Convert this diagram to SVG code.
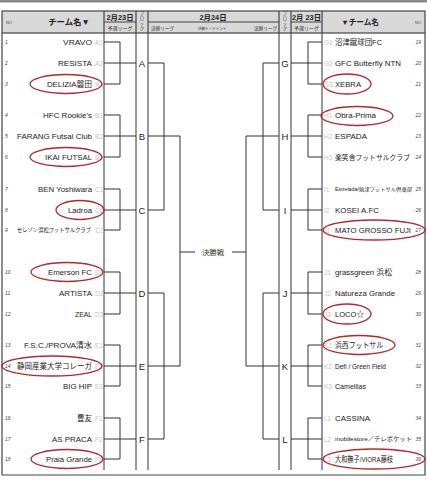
<svg xmlns="http://www.w3.org/2000/svg" width="427" height="480" viewBox="0 0 427 480">
<style>
.hd{fill:#d9d9d9;stroke:#444;stroke-width:1.2}
.ln{stroke:#333;stroke-width:1;fill:none}
.fr{stroke:#444;stroke-width:1.2;fill:none}
.t{font-family:"Liberation Sans","Noto Sans CJK JP",sans-serif;font-size:7.8px;fill:#1a1a1a}
.c{font-family:"Liberation Sans",sans-serif;font-size:6.5px;fill:#c4c4c4}
.n{font-family:"Liberation Sans",sans-serif;font-size:5px;font-style:italic;fill:#444}
.h{font-family:"Liberation Sans","Noto Sans CJK JP",sans-serif;font-weight:bold;fill:#222}
.s{font-family:"Noto Sans CJK JP","Liberation Sans",sans-serif;fill:#333}
.b{font-family:"Liberation Sans",sans-serif;font-size:9.5px;fill:#222;text-anchor:middle}
.e{fill:none;stroke:#b3282d;stroke-width:1.3}
</style>
<rect x="0" y="0" width="427" height="2.5" fill="#888"/>
<g id="header">
<rect class="hd" x="2" y="11" width="423" height="22"/>
<path class="fr" d="M104 11V33M136 11V33M148 11V33M279 11V33M291 11V33M322 11V33M104 22H136M148 22H279M291 22H322"/>
<text class="n" x="6" y="24" style="font-style:normal;font-size:4px">NO</text>
<text class="h" x="69" y="25" font-size="8.4" text-anchor="middle">チーム名▼</text>
<text class="h" x="120" y="19.5" font-size="7.4" text-anchor="middle">2月23日</text>
<text class="s" x="120" y="30" font-size="5" text-anchor="middle">予選リーグ</text>
<g class="s" font-size="4.3" text-anchor="middle"><text x="142" y="15">ブ</text><text x="142" y="20">ロ</text><text x="142" y="25">ッ</text><text x="142" y="30">ク</text><text x="285" y="15">ブ</text><text x="285" y="20">ロ</text><text x="285" y="25">ッ</text><text x="285" y="30">ク</text></g>
<text class="h" x="213" y="19.5" font-size="7.4" text-anchor="middle">2月24日</text>
<text class="s" x="151" y="30" font-size="4.6">決勝リーグ</text>
<text class="s" x="212" y="30" font-size="3.6" text-anchor="middle">決勝トーナメント</text>
<text class="s" x="277" y="30" font-size="4.6" text-anchor="end">決勝リーグ</text>
<text class="h" x="306.5" y="19.5" font-size="7.4" text-anchor="middle">2月 23日</text>
<text class="s" x="306.5" y="30" font-size="5" text-anchor="middle">予選リーグ</text>
<text class="h" x="360" y="25" font-size="7.6" text-anchor="middle">▼チーム名</text>
<text class="n" x="415" y="24" style="font-style:normal;font-size:4px">NO</text>
</g>
<g id="frame">
<path class="fr" d="M2 33V475H425V33"/>
<path class="ln" d="M104 33V470M136 33V470M148 33V470M279 33V470M291 33V470M322 33V470"/>
</g>
<g id="connectors">
<path class="ln" d="M104 42H120V84H104M104 63H136M148 63H164M104 115H120V157H104M104 136H136M148 136H180M104 189H120V230H104M104 210H136M148 210H164M104 272H120V314H104M104 293H136M148 293H164M104 345H120V386H104M104 366H136M148 366H180M104 418H120V459H104M104 439H136M148 439H164"/>
<path class="ln" d="M164 63V210M180 136V366M164 293V439M180 252H195M232 252H246"/>
<path class="ln" d="M322 42H308V84H322M322 63H291M279 63H263M322 115H308V157H322M322 136H291M279 136H246M322 189H308V230H322M322 210H291M279 210H263M322 272H308V314H322M322 293H291M279 293H263M322 345H308V386H322M322 366H291M279 366H246M322 418H308V459H322M322 439H291M279 439H263"/>
<path class="ln" d="M263 63V210M246 136V366M263 293V439"/>
</g>
<g id="blocks">
<text class="b" x="142" y="66.5">A</text>
<text class="b" x="142" y="139.5">B</text>
<text class="b" x="142" y="213.5">C</text>
<text class="b" x="142" y="296.5">D</text>
<text class="b" x="142" y="369.5">E</text>
<text class="b" x="142" y="442.5">F</text>
<text class="b" x="285" y="66.5">G</text>
<text class="b" x="285" y="139.5">H</text>
<text class="b" x="285" y="213.5">I</text>
<text class="b" x="285" y="296.5">J</text>
<text class="b" x="285" y="369.5">K</text>
<text class="b" x="285" y="442.5">L</text>
</g>
<g id="final"><text class="s" x="213" y="254.5" font-size="7" text-anchor="middle" textLength="22" lengthAdjust="spacingAndGlyphs">決勝戦</text></g>
<g id="left-teams" text-anchor="end">
<g id="t1"><text class="n" x="5" y="44" text-anchor="start">1</text><text class="t" x="92" y="44.8" textLength="29" lengthAdjust="spacingAndGlyphs">VRAVO</text><text class="c" x="95" y="44.5" text-anchor="start">A1</text></g>
<g id="t2"><text class="n" x="5" y="65" text-anchor="start">2</text><text class="t" x="92" y="65.8" textLength="34" lengthAdjust="spacingAndGlyphs">RESISTA</text><text class="c" x="95" y="65.5" text-anchor="start">A2</text></g>
<g id="t3"><text class="n" x="5" y="86" text-anchor="start">3</text><text class="t" x="92" y="86.8" textLength="45" lengthAdjust="spacingAndGlyphs">DELIZIA磐田</text><text class="c" x="95" y="86.5" text-anchor="start">A3</text></g>
<g id="t4"><text class="n" x="5" y="117" text-anchor="start">4</text><text class="t" x="92" y="117.8" textLength="49" lengthAdjust="spacingAndGlyphs">HFC Rookie's</text><text class="c" x="95" y="117.5" text-anchor="start">B1</text></g>
<g id="t5"><text class="n" x="5" y="138" text-anchor="start">5</text><text class="t" x="92" y="138.8" textLength="75" lengthAdjust="spacingAndGlyphs">FARANG Futsal Club</text><text class="c" x="95" y="138.5" text-anchor="start">B2</text></g>
<g id="t6"><text class="n" x="5" y="159" text-anchor="start">6</text><text class="t" x="92" y="159.8" textLength="47" lengthAdjust="spacingAndGlyphs">IKAI FUTSAL</text><text class="c" x="95" y="159.5" text-anchor="start">B3</text></g>
<g id="t7"><text class="n" x="5" y="191" text-anchor="start">7</text><text class="t" x="92" y="191.8" textLength="54" lengthAdjust="spacingAndGlyphs">BEN Yoshiwara</text><text class="c" x="95" y="191.5" text-anchor="start">C1</text></g>
<g id="t8"><text class="n" x="5" y="212" text-anchor="start">8</text><text class="t" x="92" y="212.8" textLength="24" lengthAdjust="spacingAndGlyphs">Ladroa</text><text class="c" x="95" y="212.5" text-anchor="start">C2</text></g>
<g id="t9"><text class="n" x="5" y="232" text-anchor="start">9</text><text class="t" x="91" y="232.3" style="font-size:5.6px" textLength="74" lengthAdjust="spacingAndGlyphs">セレゾン浜松フットサルクラブ</text><text class="c" x="95.5" y="232.5" text-anchor="start">C3</text></g>
<g id="t10"><text class="n" x="5" y="274" text-anchor="start">10</text><text class="t" x="92" y="274.8" textLength="44" lengthAdjust="spacingAndGlyphs">Emerson FC</text><text class="c" x="95" y="274.5" text-anchor="start">D1</text></g>
<g id="t11"><text class="n" x="5" y="295" text-anchor="start">11</text><text class="t" x="92" y="295.8" textLength="33" lengthAdjust="spacingAndGlyphs">ARTISTA</text><text class="c" x="95" y="295.5" text-anchor="start">D2</text></g>
<g id="t12"><text class="n" x="5" y="316" text-anchor="start">12</text><text class="t" x="92" y="316.8" textLength="17" lengthAdjust="spacingAndGlyphs">ZEAL</text><text class="c" x="95" y="316.5" text-anchor="start">D3</text></g>
<g id="t13"><text class="n" x="5" y="347" text-anchor="start">13</text><text class="t" x="92" y="347.8" textLength="68" lengthAdjust="spacingAndGlyphs">F.S.C./PROVA清水</text><text class="c" x="95" y="347.5" text-anchor="start">E1</text></g>
<g id="t14"><text class="n" x="5" y="368" text-anchor="start">14</text><text class="t" x="92" y="368.8" textLength="75" lengthAdjust="spacingAndGlyphs">静岡産業大学コレーガ</text><text class="c" x="95" y="368.5" text-anchor="start">E2</text></g>
<g id="t15"><text class="n" x="5" y="388" text-anchor="start">15</text><text class="t" x="92" y="388.8" textLength="29" lengthAdjust="spacingAndGlyphs">BIG HIP</text><text class="c" x="95" y="388.5" text-anchor="start">E3</text></g>
<g id="t16"><text class="n" x="5" y="420" text-anchor="start">16</text><text class="t" x="92" y="420.8" textLength="15" lengthAdjust="spacingAndGlyphs">豊友</text><text class="c" x="95" y="420.5" text-anchor="start">F1</text></g>
<g id="t17"><text class="n" x="5" y="441" text-anchor="start">17</text><text class="t" x="92" y="441.8" textLength="40" lengthAdjust="spacingAndGlyphs">AS PRACA</text><text class="c" x="95" y="441.5" text-anchor="start">F2</text></g>
<g id="t18"><text class="n" x="5" y="461" text-anchor="start">18</text><text class="t" x="92" y="461.8" textLength="46" lengthAdjust="spacingAndGlyphs">Praia Grande</text><text class="c" x="95" y="461.5" text-anchor="start">F3</text></g>
</g>
<g id="right-teams">
<g id="t19"><text class="c" x="324" y="44.5">G1</text><text class="t" x="335" y="44.8" textLength="47" lengthAdjust="spacingAndGlyphs">沼津蹴球団FC</text><text class="n" x="421" y="44" text-anchor="end">19</text></g>
<g id="t20"><text class="c" x="324" y="65.5">G2</text><text class="t" x="335" y="65.8" textLength="66" lengthAdjust="spacingAndGlyphs">GFC Butterfly NTN</text><text class="n" x="421" y="65" text-anchor="end">20</text></g>
<g id="t21"><text class="c" x="324" y="86.5">G3</text><text class="t" x="335" y="86.8" textLength="26" lengthAdjust="spacingAndGlyphs">XEBRA</text><text class="n" x="421" y="86" text-anchor="end">21</text></g>
<g id="t22"><text class="c" x="324" y="117.5">H1</text><text class="t" x="335" y="117.8" textLength="41" lengthAdjust="spacingAndGlyphs">Obra-Prima</text><text class="n" x="421" y="117" text-anchor="end">22</text></g>
<g id="t23"><text class="c" x="324" y="138.5">H2</text><text class="t" x="335" y="138.8" textLength="32" lengthAdjust="spacingAndGlyphs">ESPADA</text><text class="n" x="421" y="138" text-anchor="end">23</text></g>
<g id="t24"><text class="c" x="324" y="159.5">H3</text><text class="t" x="335" y="159.8" style="font-size:7px" textLength="75" lengthAdjust="spacingAndGlyphs">楽笑舎フットサルクラブ</text><text class="n" x="421" y="159" text-anchor="end">24</text></g>
<g id="t25"><text class="c" x="324" y="191.5">I1</text><text class="t" x="335" y="191" style="font-size:4.6px" textLength="77" lengthAdjust="spacingAndGlyphs">Estrelada/焼津フットサル倶楽部</text><text class="n" x="421" y="191" text-anchor="end">25</text></g>
<g id="t26"><text class="c" x="324" y="212.5">I2</text><text class="t" x="335" y="212.8" textLength="44" lengthAdjust="spacingAndGlyphs">KOSEI A.FC</text><text class="n" x="421" y="212" text-anchor="end">26</text></g>
<g id="t27"><text class="c" x="324" y="232.5">I3</text><text class="t" x="335" y="232.8" textLength="76" lengthAdjust="spacingAndGlyphs">MATO GROSSO FUJI</text><text class="n" x="421" y="232" text-anchor="end">27</text></g>
<g id="t28"><text class="c" x="324" y="274.5">J1</text><text class="t" x="335" y="274.8" textLength="57" lengthAdjust="spacingAndGlyphs">grassgreen 浜松</text><text class="n" x="421" y="274" text-anchor="end">28</text></g>
<g id="t29"><text class="c" x="324" y="295.5">J2</text><text class="t" x="335" y="295.8" textLength="60" lengthAdjust="spacingAndGlyphs">Natureza Grande</text><text class="n" x="421" y="295" text-anchor="end">29</text></g>
<g id="t30"><text class="c" x="324" y="316.5">J3</text><text class="t" x="335" y="316.8" textLength="29" lengthAdjust="spacingAndGlyphs">LOCO☆</text><text class="n" x="421" y="316" text-anchor="end">30</text></g>
<g id="t31"><text class="c" x="324" y="347.5">K1</text><text class="t" x="335" y="347.8" textLength="48" lengthAdjust="spacingAndGlyphs">浜西フットサル</text><text class="n" x="421" y="347" text-anchor="end">31</text></g>
<g id="t32"><text class="c" x="324" y="368.5">K2</text><text class="t" x="335" y="368.8" textLength="51" lengthAdjust="spacingAndGlyphs">Defi / Green Field</text><text class="n" x="421" y="368" text-anchor="end">32</text></g>
<g id="t33"><text class="c" x="324" y="388.5">K3</text><text class="t" x="335" y="388.8" textLength="31" lengthAdjust="spacingAndGlyphs">Camellias</text><text class="n" x="421" y="388" text-anchor="end">33</text></g>
<g id="t34"><text class="c" x="324" y="420.5">L1</text><text class="t" x="335" y="420.8" textLength="35" lengthAdjust="spacingAndGlyphs">CASSINA</text><text class="n" x="421" y="420" text-anchor="end">34</text></g>
<g id="t35"><text class="c" x="324" y="441.5">L2</text><text class="t" x="335" y="441.3" style="font-size:5.8px" textLength="77" lengthAdjust="spacingAndGlyphs">mobilestore／テレポケット</text><text class="n" x="421" y="441" text-anchor="end">35</text></g>
<g id="t36"><text class="c" x="324" y="461.5">L3</text><text class="t" x="335" y="461.8" textLength="58" lengthAdjust="spacingAndGlyphs">大和撫子/VIORA藤枝</text><text class="n" x="421" y="461" text-anchor="end">36</text></g>
</g>
<g id="highlights">
<ellipse class="e" cx="66" cy="84" rx="36" ry="9.5"/>
<ellipse class="e" cx="66" cy="157" rx="36" ry="9.5"/>
<ellipse class="e" cx="80" cy="210" rx="24" ry="9.5"/>
<ellipse class="e" cx="67" cy="272" rx="36" ry="9.5"/>
<ellipse class="e" cx="52" cy="366" rx="50" ry="10"/>
<ellipse class="e" cx="67" cy="459" rx="36" ry="9.5"/>
<ellipse class="e" cx="347" cy="84" rx="24" ry="10"/>
<ellipse class="e" cx="357" cy="116" rx="36" ry="9.5"/>
<ellipse class="e" cx="374" cy="230" rx="51" ry="10"/>
<ellipse class="e" cx="347" cy="314" rx="24" ry="10"/>
<ellipse class="e" cx="359" cy="345" rx="36" ry="9.5"/>
<ellipse class="e" cx="374" cy="459" rx="51" ry="10"/>
</g>
</svg>
